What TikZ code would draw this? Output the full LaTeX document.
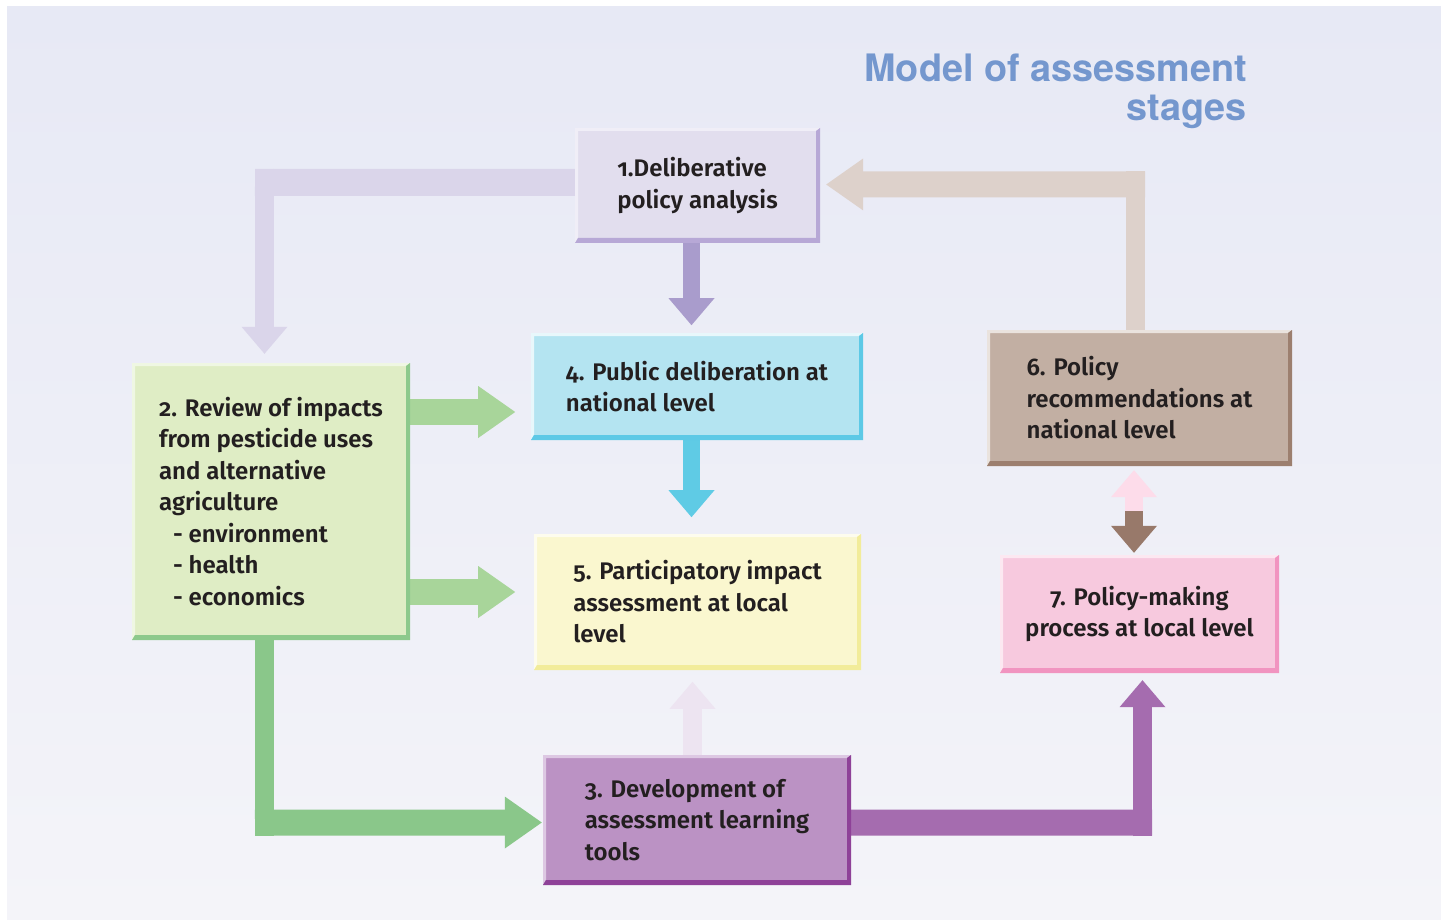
\documentclass[tikz,border=0pt]{standalone}
\usepackage{fontspec}
\setmainfont{Fira Sans}
\newfontfamily\stagefont{Fira Sans SemiBold}[Numbers=OldStyle]
\newfontfamily\titlefont{TeX Gyre Heros}
\usepackage{xcolor}
\usetikzlibrary{arrows.meta}
\usetikzlibrary{calc}

\definecolor{bgtop}{HTML}{E7E9F5}
\definecolor{bgbot}{HTML}{F4F4F9}
\definecolor{inktext}{HTML}{231F20}
\definecolor{titleblue}{HTML}{7497CE}
% stage boxes: fill, light edge, dark edge
\definecolor{delibfill}{HTML}{E2DEEE}\definecolor{delibhi}{HTML}{F0EEF7}\definecolor{deliblo}{HTML}{B7A8D6}
\definecolor{reviewfill}{HTML}{DFEDC5}\definecolor{reviewhi}{HTML}{EFF7E3}\definecolor{reviewlo}{HTML}{8DC98C}
\definecolor{toolsfill}{HTML}{BB92C4}\definecolor{toolshi}{HTML}{DDC8E3}\definecolor{toolslo}{HTML}{8E4198}
\definecolor{publicfill}{HTML}{B4E4F1}\definecolor{publichi}{HTML}{E8F7FB}\definecolor{publiclo}{HTML}{5DC9E6}
\definecolor{participfill}{HTML}{FAF7CF}\definecolor{participhi}{HTML}{FDFCEE}\definecolor{participlo}{HTML}{F2EC9A}
\definecolor{recsfill}{HTML}{C2AFA3}\definecolor{recshi}{HTML}{EAE3DE}\definecolor{recslo}{HTML}{9C7F6F}
\definecolor{localfill}{HTML}{F7C9DE}\definecolor{localhi}{HTML}{FCE8F1}\definecolor{locallo}{HTML}{F194C0}
% arrows
\definecolor{arrlilac}{HTML}{A99CCC}
\definecolor{arrcyan}{HTML}{5FCBE5}
\definecolor{arrlime}{HTML}{A8D59A}
\definecolor{arrmist}{HTML}{EDE4F1}
\definecolor{arrhaze}{HTML}{DAD5EA}
\definecolor{arrgreen}{HTML}{8AC78A}
\definecolor{arrplum}{HTML}{A56CAF}
\definecolor{arrsand}{HTML}{DDD1CB}
\definecolor{arrpink}{HTML}{FDDCEA}
\definecolor{arrbrown}{HTML}{98796A}

\pgfdeclarelayer{bg}
\pgfdeclarelayer{flow}
\pgfsetlayers{bg,flow,main}

\begin{document}
\begin{tikzpicture}[x=1pt,y=-1pt,
  stage/.style={fill=#1fill, inner sep=0pt, text=inktext, align=left,
    font=\stagefont\fontsize{24}{31.5}\selectfont,
    path picture={
      \path (path picture bounding box.north west) coordinate (nw)
            (path picture bounding box.north east) coordinate (ne)
            (path picture bounding box.south west) coordinate (sw)
            (path picture bounding box.south east) coordinate (se);
      \fill[#1hi] (nw) -- (ne) -- ([shift={(-4pt,-3pt)}]ne) -- ([shift={(3pt,-3pt)}]nw)
                -- ([shift={(3pt,5pt)}]sw) -- (sw) -- cycle;
      \fill[#1lo] (se) -- (ne) -- ([shift={(-4pt,-3pt)}]ne) -- ([shift={(-4pt,5pt)}]se)
                -- ([shift={(3pt,5pt)}]sw) -- (sw) -- cycle;
    }},
  vflow/.style={line width=19pt, -{Triangle[width=46pt,length=27pt,line width=0pt]}},
  hflow/.style={line width=26pt, -{Triangle[width=52pt,length=37pt,line width=0pt]}},
  bar/.style={line width=#1},
]
\useasboundingbox (0,0) rectangle (1441,920);

% background
\begin{pgfonlayer}{bg}
\fill[white] (0,0) rectangle (1441,920);
\fill[top color=bgtop, bottom color=bgbot] (7,7) rectangle (1441,920);
\end{pgfonlayer}

\node[font=\titlefont\bfseries\fontsize{37.8}{39}\selectfont, text=titleblue,
      anchor=north east, align=right, inner sep=0pt] (heading) at (1247,54) {Model of assessment\\stages};

% the seven stages
\node[stage=delib, minimum width=245pt, minimum height=115pt]
  (delib) at (697.5,185.5) {1.Deliberative\\policy analysis};
\node[stage=review, minimum width=278pt, minimum height=277pt]
  (review) at (271,501.5) {2. Review of impacts\\from pesticide uses\\and alternative\\agriculture\\
  \hspace*{14pt}- environment\\\hspace*{14pt}- health\\\hspace*{14pt}- economics};
\node[stage=tools, minimum width=308pt, minimum height=130pt]
  (tools) at (697,820) {3. Development of\\assessment learning\\tools};
\node[stage=public, minimum width=332pt, minimum height=107pt]
  (public) at (697,386.5) {4. Public deliberation at\\national level};
\node[stage=particip, minimum width=327pt, minimum height=136pt]
  (particip) at (697.5,602) {5. Participatory impact\\assessment at local\\level};
\node[stage=recs, minimum width=305pt, minimum height=136pt]
  (recs) at (1139.5,398) {6. Policy\\recommendations at\\national level};
\node[stage=local, minimum width=279pt, minimum height=118pt, align=center]
  (localpol) at (1139.5,614) {7. Policy-making\\process at local level};

\begin{pgfonlayer}{flow}
% 1 -> 4 -> 5
\draw[vflow, line width=17pt, arrlilac] ($(delib.south)+(-6,0)$) -- ($(delib.south)+(-6,82)$);
\draw[vflow, line width=17pt, arrcyan] ($(public.south)+(-5.5,0)$) -- ($(public.south)+(-5.5,77)$);
% 2 -> 4, 2 -> 5
\draw[hflow, arrlime] ($(review.east)+(0,-89.5)$) -- ($(review.east)+(105,-89.5)$);
\draw[hflow, arrlime] ($(review.east)+(0,90.5)$) -- ($(review.east)+(105,90.5)$);
% 3 -> 5
\draw[vflow, arrmist] ($(tools.north)+(-4.5,0)$) -- ($(tools.north)+(-4.5,-73)$);
% 1 -> 2
\draw[bar=27pt, arrhaze] ($(delib.west)+(0,-3)$) -- ($(review.north)+(-16,-180.5)$);
\draw[vflow, arrhaze] ($(review.north)+(-6.5,-194)$) -- ($(review.north)+(-6.5,-9)$);
% 2 -> 3
\draw[bar=19pt, arrgreen] ($(review.south)+(-6.5,0)$) -- ($(review.south)+(-6.5,196)$);
\draw[hflow, arrgreen] ($(review.south)+(-16,182.5)$) -- ($(tools.west)+(-1,2.5)$);
% 3 -> 7
\draw[bar=26pt, arrplum] ($(tools.east)+(0,2.5)$) -- ($(localpol.south)+(12.5,149.5)$);
\draw[vflow, arrplum] ($(localpol.south)+(3,163)$) -- ($(localpol.south)+(3,7)$);
% 6 -> 1
\draw[bar=19pt, arrsand] ($(recs.north)+(-4,0)$) -- ($(recs.north)+(-4,-159)$);
\draw[hflow, arrsand] ($(recs.north)+(5.5,-145.5)$) -- ($(delib.east)+(6,-1)$);
% 6 <-> 7
\coordinate (swap) at ($(recs.south)+(-5.5,45)$);
\draw[vflow, line width=18pt, arrpink] (swap) -- ($(recs.south)+(-5.5,4)$);
\draw[vflow, line width=18pt, arrbrown] (swap) -- ($(localpol.north)+(-5.5,-2)$);
\end{pgfonlayer}

\end{tikzpicture}
\end{document}
